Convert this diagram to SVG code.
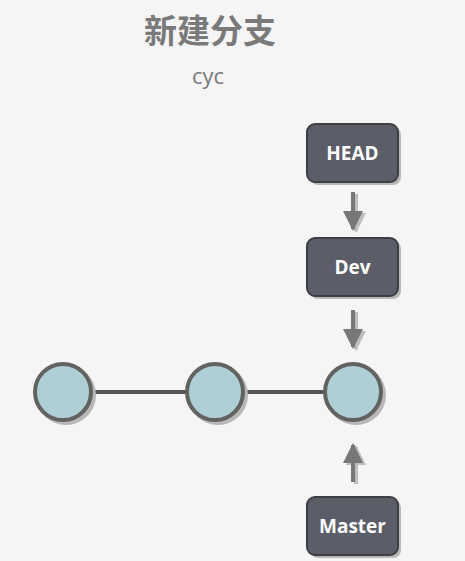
<svg xmlns="http://www.w3.org/2000/svg" width="465" height="561" viewBox="0 0 465 561">
<defs>
<style>
.title{font-family:"Noto Sans CJK SC","Liberation Sans",sans-serif;font-weight:bold;font-size:33px;fill:#7a7a7a;text-anchor:middle}
.sub{font-family:"Open Sans","Liberation Sans",sans-serif;font-weight:normal;font-size:22px;fill:#7a7a7a;text-anchor:middle}
.box{fill:#5b5e68;stroke:#3e3f44;stroke-width:2}
.boxsh{fill:#b8b8b8}
.lbl{font-family:"Open Sans","Liberation Sans",sans-serif;font-weight:bold;font-size:19px;fill:#ffffff;text-anchor:middle}
.commit{fill:#aecfd6;stroke:#626262;stroke-width:4}
.csh{fill:#b8b8b8}
.edge{stroke:#555555;stroke-width:4}
.arr{stroke:#777777;stroke-width:4;fill:none}
.ash{stroke:#bdbdbd;stroke-width:4;fill:none}
</style>
<marker id="ah" viewBox="0 0 10 10" refX="9" refY="5" markerWidth="5" markerHeight="5" markerUnits="strokeWidth" orient="auto">
<path d="M0,0 L10,5 L0,10 z" fill="#777777"/>
</marker>
<marker id="ahs" viewBox="0 0 10 10" refX="9" refY="5" markerWidth="5" markerHeight="5" markerUnits="strokeWidth" orient="auto">
<path d="M0,0 L10,5 L0,10 z" fill="#bdbdbd"/>
</marker>
</defs>
<rect width="465" height="561" fill="#f5f5f5"/>
<text class="title" x="210" y="43">新建分支</text>
<text class="sub" x="208" y="84">cyc</text>

<g id="connectors">
<line class="edge" x1="63" y1="392" x2="215" y2="392"/>
<line class="edge" x1="215" y1="392" x2="353" y2="392"/>
<line class="ash" x1="356" y1="194" x2="356" y2="231" marker-end="url(#ahs)"/>
<line class="arr" x1="353" y1="192" x2="353" y2="229" marker-end="url(#ah)"/>
<line class="ash" x1="356" y1="312" x2="356" y2="349" marker-end="url(#ahs)"/>
<line class="arr" x1="353" y1="310" x2="353" y2="347" marker-end="url(#ah)"/>
<line class="ash" x1="356" y1="484" x2="356" y2="447" marker-end="url(#ahs)"/>
<line class="arr" x1="353" y1="482" x2="353" y2="445" marker-end="url(#ah)"/>
</g>

<g id="c1">
<circle class="csh" cx="66" cy="395" r="30"/>
<circle class="commit" cx="63" cy="392" r="28"/>
</g>
<g id="c2">
<circle class="csh" cx="218" cy="395" r="30"/>
<circle class="commit" cx="215" cy="392" r="28"/>
</g>
<g id="c3">
<circle class="csh" cx="356" cy="395" r="30"/>
<circle class="commit" cx="353" cy="392" r="28"/>
</g>

<g id="head">
<rect class="boxsh" x="310" y="127" width="91" height="58" rx="8"/>
<rect class="box" x="307" y="124" width="91" height="58" rx="8"/>
<text class="lbl" x="352.5" y="160">HEAD</text>
</g>
<g id="dev">
<rect class="boxsh" x="310" y="241" width="91" height="58" rx="8"/>
<rect class="box" x="307" y="238" width="91" height="58" rx="8"/>
<text class="lbl" x="352.5" y="274">Dev</text>
</g>
<g id="master">
<rect class="boxsh" x="310" y="500" width="91" height="58" rx="8"/>
<rect class="box" x="307" y="497" width="91" height="58" rx="8"/>
<text class="lbl" x="352.5" y="533">Master</text>
</g>
</svg>
